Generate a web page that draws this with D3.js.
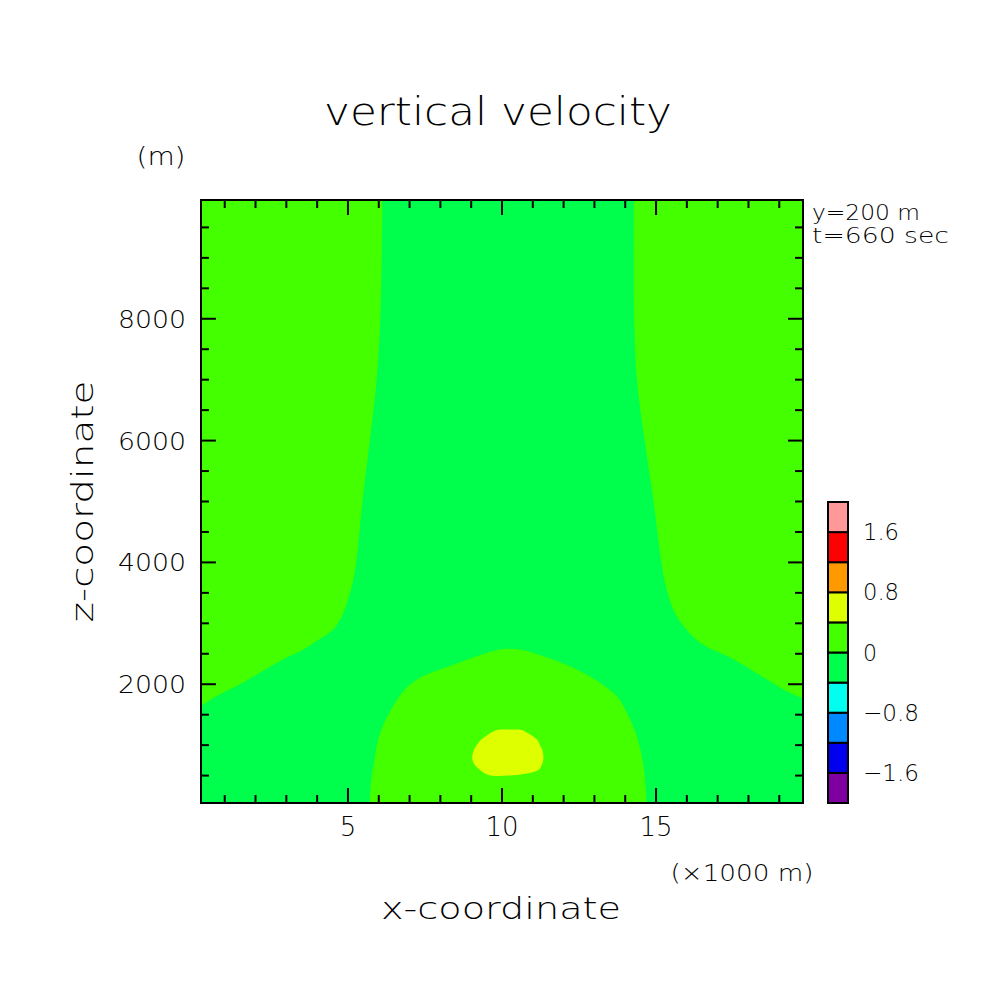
<!DOCTYPE html>
<html>
<head>
<meta charset="utf-8">
<script src="https://cdn.jsdelivr.net/npm/d3@7"></script>
<style>
  html, body { margin: 0; padding: 0; background: #fff; }
  svg { display: block; }
  text { font-family: "DejaVu Sans", "Liberation Sans", sans-serif; font-weight: 200; fill: #000; }
</style>
</head>
<body>
<script>
// ---------------- data ----------------
const xDomain = [0.23, 19.77];          // x-coordinate (x1000 m)
const zDomain = [50, 9950];             // z-coordinate (m)
const xMajorTicks = [5, 10, 15];
const xMinorTicks = [1,2,3,4,6,7,8,9,11,12,13,14,16,17,18,19];
const zMajorTicks = [2000, 4000, 6000, 8000];
const zMinorTicks = [500,1000,1500,2500,3000,3500,4500,5000,5500,6500,7000,7500,8500,9000,9500];

// colour bands: level boundaries and colours
const levels = [-2.0,-1.6,-1.2,-0.8,-0.4,0,0.4,0.8,1.2,1.6,2.0];
const bandColors = ["#7f00a0","#0000ee","#0088ff","#00ffee","#00ff4c",
                    "#44ff00","#ddff00","#ff9900","#ff0000","#ff9999"];
const cbarTicks = [-1.6, -0.8, 0, 0.8, 1.6];
const cbarLabels = ["\u22121.6", "\u22120.8", "0", "0.8", "1.6"];

// background band value (-0.4..0) and contour regions
const backgroundBand = 4;
// left upper region (0..0.4): from top edge down to left edge
const leftContour = [[6.12,9950],[6.05,8000],[5.93,7000],[5.71,6000],[5.47,5000],[5.28,4050],
  [5.15,3665],[4.85,3175],[4.52,2900],[3.98,2710],[3.55,2570],[2.90,2410],[2.04,2160],
  [1.39,1970],[0.74,1805],[0.23,1640]];
// right upper region (0..0.4): from top edge down to right edge
const rightContour = [[14.28,9950],[14.29,8000],[14.38,7000],[14.63,6000],[14.92,5000],
  [15.16,4050],[15.29,3670],[15.56,3225],[15.89,2955],[16.43,2680],[17.51,2410],
  [18.59,2080],[19.13,1915],[19.77,1770]];
// central lower region (0..0.4): from bottom edge over the top back to bottom edge
const centerContour = [[5.71,50],[5.75,400],[5.84,700],[6.04,1190],[6.47,1645],[6.91,1945],
  [7.44,2135],[8.31,2300],[9.18,2460],[9.94,2570],[10.58,2570],[11.34,2460],[12.31,2270],
  [13.18,2025],[13.72,1805],[14.05,1535],[14.37,1150],[14.59,660],[14.70,50]];
// core (0.4..0.8): closed
const coreContour = [[9.83,1249],[10.23,1257],[10.64,1249],[10.85,1194],[11.02,1139],
  [11.15,1084],[11.23,1002],[11.31,920],[11.34,838],[11.34,756],[11.29,674],[11.18,592],
  [10.85,538],[10.23,501],[9.56,510],[9.29,592],[9.12,674],[9.04,756],[9.04,838],
  [9.09,920],[9.18,1002],[9.31,1084],[9.45,1139],[9.61,1194]];

const titleText = "vertical velocity";
const xLabel = "x-coordinate";
const zLabel = "z-coordinate";
const xUnit = "(\u00d71000 m)";
const zUnit = "(m)";
const infoLines = ["y=200 m", "t=660 sec"];

// ---------------- drawing ----------------
const W = 1004, H = 1004;
const svg = d3.select("body").append("svg").attr("width", W).attr("height", H);

const plot = {left: 201, right: 803, top: 200, bottom: 803};
const x = d3.scaleLinear().domain(xDomain).range([plot.left, plot.right]);
const z = d3.scaleLinear().domain(zDomain).range([plot.bottom, plot.top]);

svg.append("clipPath").attr("id", "clip")
  .append("rect").attr("x", plot.left).attr("y", plot.top)
  .attr("width", plot.right - plot.left).attr("height", plot.bottom - plot.top);

const g = svg.append("g").attr("clip-path", "url(#clip)");
g.append("rect").attr("x", plot.left).attr("y", plot.top)
  .attr("width", plot.right - plot.left).attr("height", plot.bottom - plot.top)
  .attr("fill", bandColors[backgroundBand]);

const smooth = d3.line().x(d => x(d[0])).y(d => z(d[1])).curve(d3.curveCatmullRom.alpha(0.5));
const smoothClosed = d3.line().x(d => x(d[0])).y(d => z(d[1])).curve(d3.curveCatmullRomClosed.alpha(0.5));

function pt(p) { return x(p[0]) + "," + z(p[1]); }

// left region
g.append("path")
  .attr("d", smooth(leftContour) + "L" + pt([xDomain[0], zDomain[1]]) + "Z")
  .attr("fill", bandColors[5]);
// right region
g.append("path")
  .attr("d", smooth(rightContour) + "L" + pt([xDomain[1], zDomain[1]]) + "Z")
  .attr("fill", bandColors[5]);
// center region
g.append("path")
  .attr("d", smooth(centerContour) + "Z")
  .attr("fill", bandColors[5]);
// core
g.append("path")
  .attr("d", smoothClosed(coreContour))
  .attr("fill", bandColors[6]);

// frame
svg.append("rect").attr("x", plot.left).attr("y", plot.top)
  .attr("width", plot.right - plot.left).attr("height", plot.bottom - plot.top)
  .attr("fill", "none").attr("stroke", "#000").attr("stroke-width", 2);

// ticks (inside, all four sides)
const tk = svg.append("g").attr("stroke", "#000").attr("stroke-width", 2);
function xTicks(vals, len) {
  vals.forEach(v => {
    tk.append("line").attr("x1", x(v)).attr("x2", x(v)).attr("y1", plot.bottom).attr("y2", plot.bottom - len);
    tk.append("line").attr("x1", x(v)).attr("x2", x(v)).attr("y1", plot.top).attr("y2", plot.top + len);
  });
}
function zTicks(vals, len) {
  vals.forEach(v => {
    tk.append("line").attr("y1", z(v)).attr("y2", z(v)).attr("x1", plot.left).attr("x2", plot.left + len);
    tk.append("line").attr("y1", z(v)).attr("y2", z(v)).attr("x1", plot.right).attr("x2", plot.right - len);
  });
}
xTicks(xMajorTicks, 15); xTicks(xMinorTicks, 8);
zTicks(zMajorTicks, 15); zTicks(zMinorTicks, 8);

function label(px, py, str, size, anchor, len) {
  const t = svg.append("text").attr("x", px).attr("y", py)
    .attr("font-size", size).attr("text-anchor", anchor).text(str);
  if (len) t.attr("textLength", len).attr("lengthAdjust", "spacingAndGlyphs");
  return t;
}

// tick labels
xMajorTicks.forEach(v => label(x(v), 836, String(v), 26, "middle"));
zMajorTicks.forEach(v => label(186, z(v) + 9, String(v), 25, "end", 68));

// titles
label(498, 125, titleText, 39, "middle", 348);
label(501, 919, xLabel, 31, "middle", 240);
svg.append("text").attr("transform", "translate(93," + ((plot.top + plot.bottom) / 2) + ") rotate(-90)")
  .attr("font-size", 31).attr("text-anchor", "middle")
  .attr("textLength", 242).attr("lengthAdjust", "spacingAndGlyphs").text(zLabel);
label(742, 881, xUnit, 23, "middle", 143);
label(161, 165, zUnit, 24, "middle", 49);
label(812, 220, infoLines[0], 21, "start", 108);
label(812, 243, infoLines[1], 21, "start", 137);

// colour bar
const cb = {left: 828, right: 848};
const cz = d3.scaleLinear().domain([levels[0], levels[levels.length - 1]]).range([803, 502]);
const cbg = svg.append("g");
bandColors.forEach((c, i) => {
  cbg.append("rect").attr("x", cb.left).attr("width", cb.right - cb.left)
    .attr("y", cz(levels[i + 1])).attr("height", cz(levels[i]) - cz(levels[i + 1]))
    .attr("fill", c).attr("stroke", "#000").attr("stroke-width", 2);
});
cbarTicks.forEach((v, i) => {
  const s = cbarLabels[i];
  const w = s.length === 1 ? 14 : (s.length === 3 ? 36 : 56);
  label(863, cz(v) + 8, s, 23, "start", w);
});
</script>
</body>
</html>
